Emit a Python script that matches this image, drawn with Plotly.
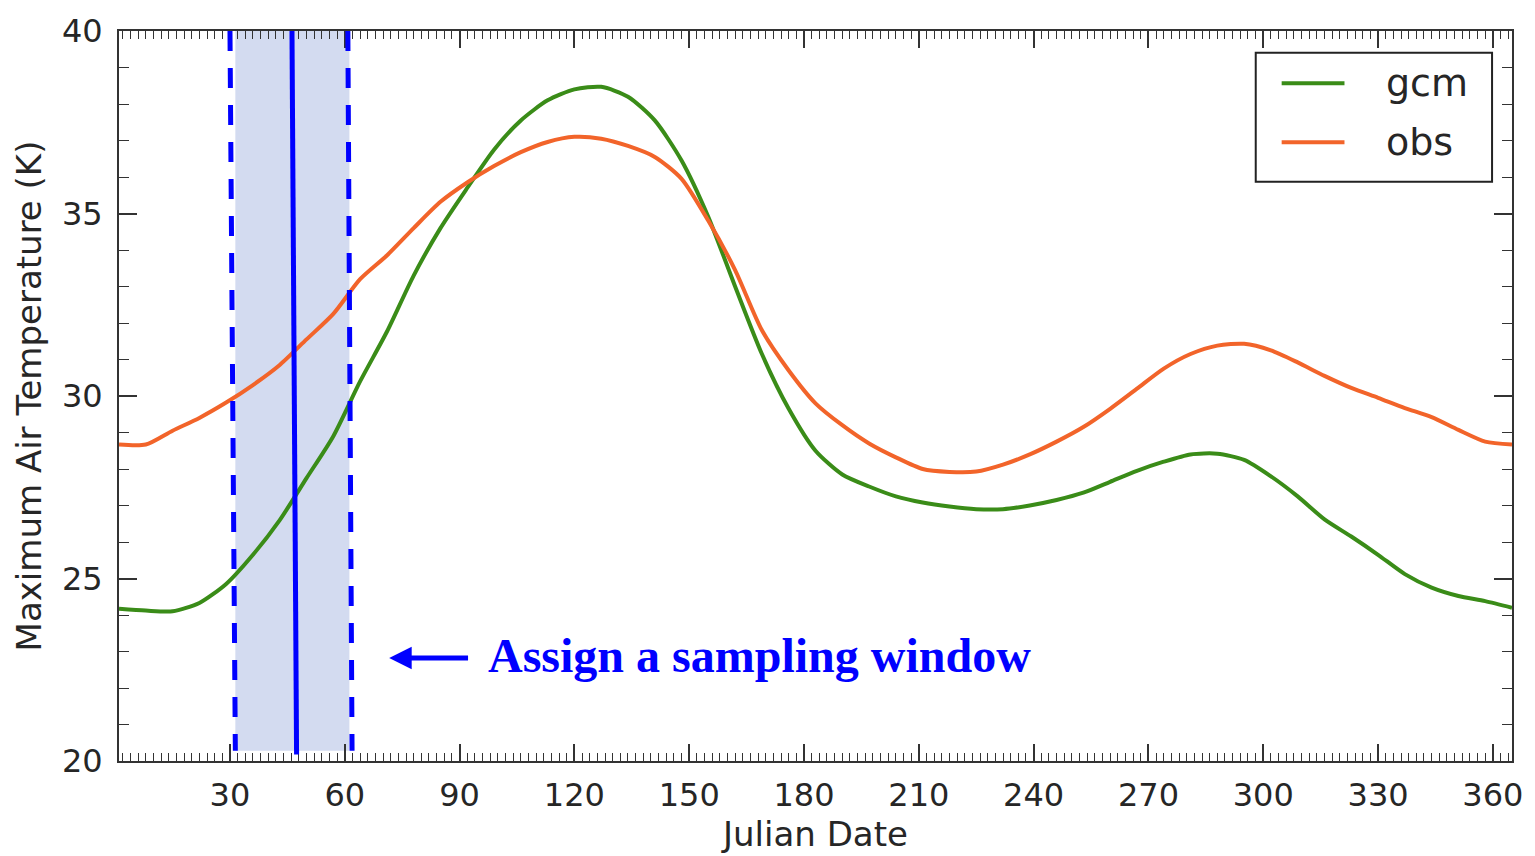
import plotly.graph_objects as go

# ---- data ----
days = [1, 8, 15, 22, 29, 36, 43, 50, 57, 64, 71, 78, 85, 92, 99, 106, 113, 120, 127,
        134, 141, 148, 155, 162, 169, 176, 183, 190, 197, 204, 211, 218, 225, 232, 239,
        246, 253, 260, 267, 274, 281, 288, 295, 302, 309, 316, 323, 330, 337, 344, 351,
        358, 365]

gcm = [24.17, 24.12, 24.10, 24.33, 24.85, 25.65, 26.60, 27.75, 28.90, 30.40, 31.76,
       33.30, 34.60, 35.70, 36.75, 37.55, 38.10, 38.40, 38.47, 38.20, 37.55, 36.45,
       34.90, 33.00, 31.15, 29.65, 28.50, 27.85, 27.52, 27.25, 27.08, 26.97, 26.90,
       26.90, 27.00, 27.15, 27.35, 27.65, 27.95, 28.20, 28.40, 28.42, 28.25, 27.80,
       27.25, 26.62, 26.15, 25.65, 25.12, 24.75, 24.52, 24.38, 24.20]

obs = [28.67, 28.67, 29.05, 29.40, 29.82, 30.30, 30.85, 31.55, 32.25, 33.20, 33.85,
       34.60, 35.32, 35.85, 36.30, 36.68, 36.96, 37.10, 37.05, 36.85, 36.55, 35.95,
       34.80, 33.45, 31.80, 30.70, 29.80, 29.20, 28.70, 28.32, 28.00, 27.92, 27.93,
       28.12, 28.40, 28.75, 29.15, 29.65, 30.20, 30.75, 31.15, 31.38, 31.43, 31.25,
       30.92, 30.55, 30.22, 29.95, 29.67, 29.42, 29.07, 28.75, 28.67]

series_names = ["gcm", "obs"]
series_colors = ["#3a8c18", "#f2642a"]

x_ticks = [30, 60, 90, 120, 150, 180, 210, 240, 270, 300, 330, 360]
y_ticks = [20, 25, 30, 35, 40]

# sampling window (top / bottom x of the hand-drawn lines)
win_left = [30.0, 31.4]
win_center = [46.2, 47.4]
win_right = [60.8, 61.9]
win_fill = [31.4, 61.2]

FONT = "DejaVu Sans"
TXT = "#262626"

fig = go.Figure()
for name, ys, col in zip(series_names, [gcm, obs], series_colors):
    fig.add_trace(go.Scatter(x=days, y=ys, name=name, mode="lines",
                             line=dict(color=col, width=4, shape="spline", smoothing=0.7),
                             showlegend=False))

shapes = []
# shaded window
shapes.append(dict(type="rect", xref="x", yref="y", x0=win_fill[0], x1=win_fill[1],
                   y0=20.28, y1=40, fillcolor="#d3dbf0", line=dict(width=0), layer="below"))
# dashed window bounds
for xs in (win_left, win_right):
    shapes.append(dict(type="line", xref="x", yref="y", x0=xs[0], y0=40, x1=xs[1], y1=20.28,
                       line=dict(color="#0000ff", width=5, dash="20px,17px")))
# center solid line
shapes.append(dict(type="line", xref="x", yref="y", x0=win_center[0], y0=40,
                   x1=win_center[1], y1=20.18, line=dict(color="#0000ff", width=5)))

# manual legend (matplotlib-like box)
def px2paper_x(p):
    return (p - 119) / 1397.0

def px2paper_y(p):
    return (768 - p) / 741.0

shapes.append(dict(type="rect", xref="paper", yref="paper",
                   x0=px2paper_x(1259), x1=px2paper_x(1496),
                   y0=px2paper_y(180), y1=px2paper_y(49),
                   fillcolor="white", line=dict(color="#222", width=2)))
annotations = []
for i, (name, col) in enumerate(zip(series_names, series_colors)):
    yy = px2paper_y(80 + 60 * i)
    shapes.append(dict(type="line", xref="paper", yref="paper",
                       x0=px2paper_x(1285), x1=px2paper_x(1348), y0=yy, y1=yy,
                       line=dict(color=col, width=4)))
    annotations.append(dict(xref="paper", yref="paper", x=px2paper_x(1388), y=yy,
                            text=name, showarrow=False, xanchor="left", yanchor="middle",
                            font=dict(family=FONT, size=38, color=TXT)))

# arrow + label
annotations.append(dict(xref="x", yref="y", axref="x", ayref="y",
                        x=71.6, y=22.82, ax=92.6, ay=22.82, text="",
                        showarrow=True, arrowhead=2, arrowsize=0.9, arrowwidth=5,
                        arrowcolor="#0000ff"))
annotations.append(dict(xref="x", yref="y", x=97.0, y=22.9,
                        text="<b>Assign a sampling window</b>", showarrow=False,
                        xanchor="left", yanchor="middle",
                        font=dict(family="Liberation Serif", size=48, color="#0000ff")))

fig.update_layout(
    width=1535, height=856,
    margin=dict(l=119, r=19, t=27, b=88),
    paper_bgcolor="white", plot_bgcolor="white",
    shapes=shapes, annotations=annotations,
    showlegend=False,
    font=dict(family=FONT, color=TXT, size=32),
)

fig.update_xaxes(
    range=[1, 365], tickmode="array", tickvals=x_ticks,
    ticktext=[str(v) for v in x_ticks],
    ticks="inside", ticklen=17, tickwidth=1.5, tickcolor="#333",
    showline=True, linecolor="#333", linewidth=2, mirror="ticks",
    showgrid=False, zeroline=False,
    minor=dict(ticks="inside", dtick=2, tick0=0, ticklen=8, tickwidth=1, tickcolor="#333",
               showgrid=False),
    tickfont=dict(family=FONT, size=32, color=TXT),
    title=dict(text="Julian Date", font=dict(family=FONT, size=34, color=TXT), standoff=6),
    ticklabelstandoff=5,
)
fig.update_yaxes(
    range=[20, 40], tickmode="array", tickvals=y_ticks,
    ticktext=[str(v) for v in y_ticks],
    ticks="inside", ticklen=18, tickwidth=1.5, tickcolor="#333",
    showline=True, linecolor="#333", linewidth=2, mirror="ticks",
    showgrid=False, zeroline=False,
    minor=dict(ticks="inside", dtick=1, tick0=0, ticklen=10, tickwidth=1, tickcolor="#333",
               showgrid=False),
    tickfont=dict(family=FONT, size=32, color=TXT),
    title=dict(text="Maximum Air Temperature (K)", font=dict(family=FONT, size=34, color=TXT),
               standoff=10),
    ticklabelstandoff=8,
)

fig.write_html("out.html")
